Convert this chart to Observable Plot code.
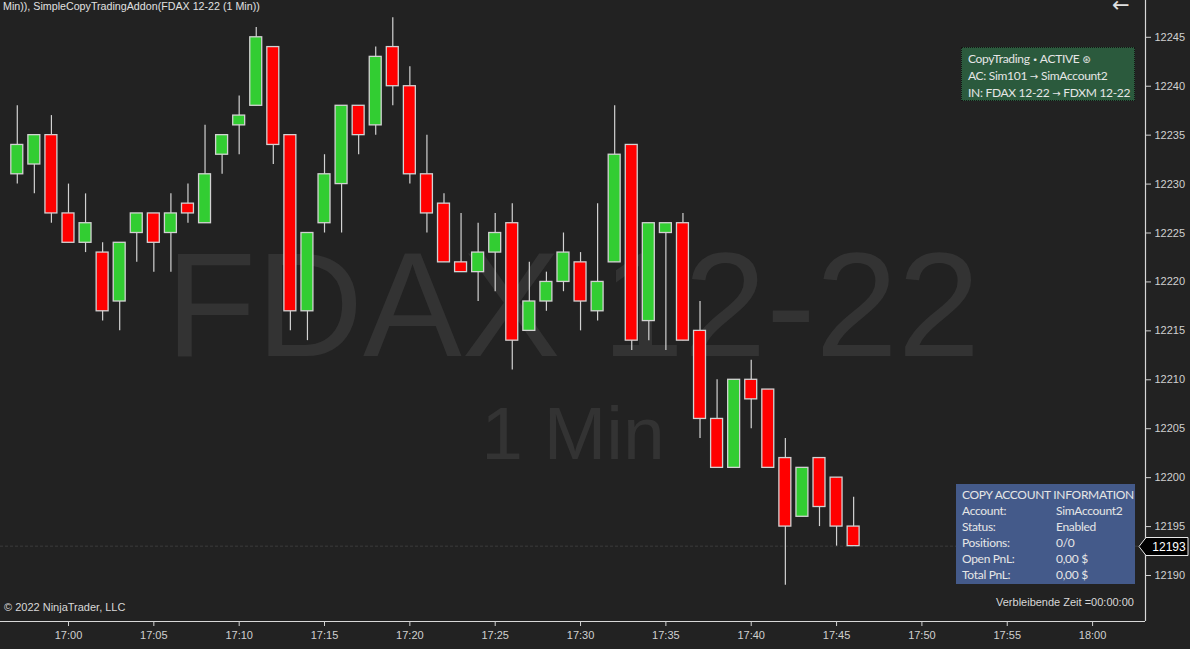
<!DOCTYPE html>
<html><head><meta charset="utf-8">
<script src="https://cdn.jsdelivr.net/npm/d3@7"></script>
<script src="https://cdn.jsdelivr.net/npm/@observablehq/plot@0.6"></script>
<style>
html,body{margin:0;padding:0;background:#222222;overflow:hidden}
#wrap{position:relative;width:1190px;height:649px;background:#222222;font-family:"Liberation Sans",Arial,sans-serif;color:#d8d8d8}
#wrap svg{position:absolute;left:0;top:0}
.ov{position:absolute;white-space:nowrap}
#title{left:3px;top:0px;font-size:10.7px;color:#e0e0e0}
#arrow{left:1112px;top:0px;font-size:21px;line-height:10px;height:12px;color:#e0e0e0;font-family:"DejaVu Sans",sans-serif}
#copy{left:4px;top:601px;font-size:11px;color:#d8d8d8}
#remain{left:996px;top:596px;font-size:11px;color:#d8d8d8}
.box{position:absolute;font-family:Lato,"Open Sans",sans-serif;font-size:12px;letter-spacing:-0.3px;color:#e6e6e6;line-height:16px;box-sizing:border-box;white-space:nowrap;overflow:hidden}
#gbox{left:961px;top:47px;width:174px;height:54px;background:#2b5a3d;border:1px dotted #151515;padding:3px 0 0 6px}
#bbox{left:956px;top:484px;width:179px;height:100px;background:#445a8a;padding:3px 0 0 6px}
#bbox .v{position:absolute;left:94px}
.arr{font-family:"DejaVu Sans",sans-serif;font-size:10px;letter-spacing:0}
.bul{font-family:"DejaVu Sans",sans-serif;font-size:9px}
</style></head><body><div id="wrap">
<div id="chart"></div>
</div>
<script>
// ---- data ----
const times = ["16:57","16:58","16:59","17:00","17:01","17:02","17:03","17:04","17:05","17:06",
  "17:07","17:08","17:09","17:10","17:11","17:12","17:13","17:14","17:15","17:16",
  "17:17","17:18","17:19","17:20","17:21","17:22","17:23","17:24","17:25","17:26",
  "17:27","17:28","17:29","17:30","17:31","17:32","17:33","17:34","17:35","17:36",
  "17:37","17:38","17:39","17:40","17:41","17:42","17:43","17:44","17:45","17:46"];
const opens  = [12231,12232,12235,12227,12224,12223,12218,12225,12227,12225,
  12228,12226,12233,12236,12238,12244,12235,12217,12226,12230,
  12238,12236,12244,12240,12231,12228,12222,12221,12223,12226,
  12215,12218,12220,12222,12217,12222,12234,12216,12225,12226,
  12215,12206,12201,12210,12209,12202,12196,12202,12200,12195];
const highs  = [12238,12235,12237,12230,12229,12224,12224,12227,12227,12229,
  12230,12236,12235,12239,12246,12244,12235,12225,12233,12238,
  12238,12244,12247,12242,12235,12229,12227,12226,12227,12228,
  12222,12221,12225,12223,12228,12238,12234,12226,12226,12227,
  12218,12210,12210,12212,12209,12204,12201,12202,12200,12198];
const lows   = [12230,12229,12226,12224,12223,12216,12215,12222,12221,12221,
  12226,12226,12231,12233,12238,12232,12215,12214,12225,12225,
  12233,12235,12238,12230,12225,12222,12221,12218,12219,12211,
  12215,12217,12219,12215,12216,12222,12213,12214,12213,12214,
  12204,12201,12201,12205,12201,12189,12196,12195,12193,12193];
const closes = [12234,12235,12227,12224,12226,12217,12224,12227,12224,12227,
  12227,12231,12235,12237,12245,12234,12217,12225,12231,12238,
  12235,12243,12240,12231,12227,12222,12221,12223,12225,12214,
  12218,12220,12223,12218,12220,12233,12214,12226,12226,12214,
  12206,12201,12210,12208,12201,12195,12201,12197,12195,12193];
const xTickLabels = ["17:00","17:05","17:10","17:15","17:20","17:25","17:30","17:35","17:40","17:45","17:50","17:55","18:00"];
const yTicks = [12190,12195,12200,12205,12210,12215,12220,12225,12230,12235,12240,12245];
const watermark1 = "FDAX 12-22";
const watermark2 = "1 Min";
const lastPrice = closes[closes.length - 1];

// ---- build ----
const day = "2022-11-18T";
const toDate = (hm, s = "00") => new Date(day + hm + ":" + s + "Z");
const bars = times.map((t, i) => ({
  t: toDate(t), o: opens[i], h: highs[i], l: lows[i], c: closes[i]
}));
const half = 21000; // half body width in ms
const xDomain = [toDate("16:56", "01"), toDate("18:03", "06")];
const yDomain = [12185.3, 12248.76];
const GREEN = "#32cd32", RED = "#ff0000", EDGE = "#d2d2d2";

const plot = Plot.plot({
  width: 1190, height: 649,
  marginLeft: 0, marginRight: 45, marginTop: 0, marginBottom: 28,
  style: {background: "#222222", color: "#d0d0d0", fontFamily: "'Liberation Sans', Arial, sans-serif"},
  x: {type: "utc", domain: xDomain},
  y: {domain: yDomain},
  marks: [
    Plot.text([watermark1], {frameAnchor: "top", lineAnchor: "bottom", dy: 355, fontSize: 148, fill: "#333333", text: d => d, fontFamily: "'Liberation Sans', Arial, sans-serif"}),
    Plot.text([watermark2], {frameAnchor: "top", lineAnchor: "bottom", dy: 458, fontSize: 75, fill: "#333333", text: d => d, fontFamily: "'Liberation Sans', Arial, sans-serif"}),
    Plot.ruleY([lastPrice], {stroke: "#3c3c3c", strokeDasharray: "3,2", strokeWidth: 1}),
    Plot.ruleX(bars, {x: "t", y1: "l", y2: "h", stroke: EDGE, strokeWidth: 1.2}),
    Plot.rect(bars, {
      x1: d => new Date(+d.t - half), x2: d => new Date(+d.t + half),
      y1: "o", y2: "c",
      fill: d => d.c >= d.o ? GREEN : RED,
      stroke: EDGE, strokeWidth: 1.3
    }),
    Plot.ruleX([xDomain[1]], {stroke: "#d8d8d8", strokeWidth: 1.2}),
    Plot.ruleY([yDomain[0]], {stroke: "#d8d8d8", strokeWidth: 1.2}),
    Plot.axisX({
      ticks: xTickLabels.map(s => toDate(s)),
      tickFormat: d3.utcFormat("%H:%M"),
      tickSize: 5, tickPadding: 5, fontSize: 11, stroke: "#d0d0d0", fill: "#d0d0d0", label: null
    }),
    Plot.axisY({
      anchor: "right", ticks: yTicks, tickFormat: d => String(d),
      tickSize: 5, tickPadding: 4, fontSize: 11, stroke: "#d0d0d0", fill: "#d0d0d0", label: null
    })
  ]
});
document.getElementById("chart").appendChild(plot);

// price marker on the right, positioned through the plot's y scale
const ys = plot.scale("y");
const py = Math.round(ys.apply(lastPrice)) + 0.5;
const svg = d3.select(plot);
const xr = 1145;
svg.append("path")
  .attr("d", `M${xr - 6},${py} L${xr + 1},${py - 9} L${xr + 43},${py - 9} L${xr + 43},${py + 9} L${xr + 1},${py + 9} Z`)
  .attr("fill", "#000").attr("stroke", "#e8e8e8").attr("stroke-width", 1);
svg.append("text")
  .attr("x", xr + 24).attr("y", py).attr("dy", "0.36em")
  .attr("text-anchor", "middle").attr("fill", "#ffffff")
  .attr("font-size", 12).attr("font-family", "'Liberation Sans', Arial, sans-serif")
  .text(String(lastPrice));

// overlays
const wrap = document.getElementById("wrap");
function ov(id, html, cls = "ov") {
  const d = document.createElement("div");
  d.id = id; d.className = cls; d.innerHTML = html; wrap.appendChild(d);
}
ov("title", "Min)), SimpleCopyTradingAddon(FDAX 12-22 (1 Min))");
ov("arrow", "\u2190");
ov("copy", "\u00a9 2022 NinjaTrader, LLC");
ov("remain", "Verbleibende Zeit =00:00:00");
const A = '<span class="arr">\u2192</span>';
ov("gbox", `CopyTrading <span class="bul">\u2022</span> ACTIVE <span class="arr">\u229b</span><br>AC: Sim101 ${A} SimAccount2<br>IN: FDAX 12-22 ${A} FDXM 12-22`, "box");
const infoLabels = ["Account:", "Status:", "Positions:", "Open PnL:", "Total PnL:"];
const infoValues = ["SimAccount2", "Enabled", "0/0", "0,00 $", "0,00 $"];
ov("bbox", "COPY ACCOUNT INFORMATION<br>" + infoLabels.map((l, i) =>
  `<div style="position:relative">${l}<span class="v">${infoValues[i]}</span></div>`).join(""), "box");
</script>
</body></html>
